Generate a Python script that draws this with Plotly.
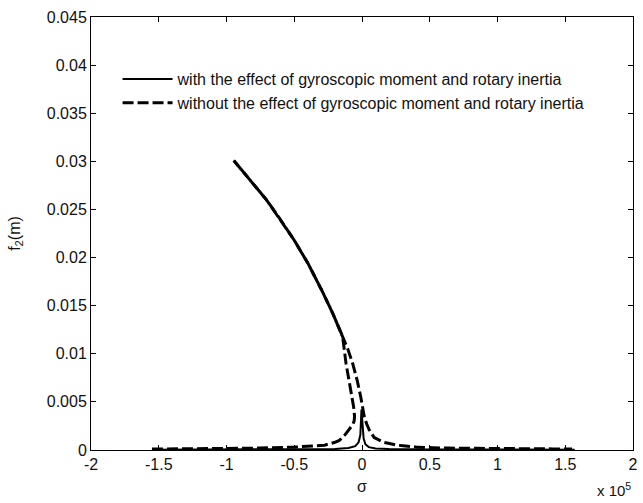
import plotly.graph_objects as go

# sigma in units of 1e5
lower_sigma = [-1.55, -1.3, -1.0, -0.75, -0.5, -0.35, -0.277, -0.2, -0.167, -0.13, -0.094,
               -0.07, -0.058, -0.055, -0.062, -0.075, -0.095, -0.118, -0.143, -0.216, -0.297,
               -0.399, -0.5, -0.6, -0.705, -0.835, -0.947]
lower_f = [0.0001, 0.00012, 0.00015, 0.0002, 0.0003, 0.0004, 0.0005, 0.0008, 0.001, 0.0015, 0.0021,
           0.0026, 0.003, 0.0035, 0.0045, 0.0055, 0.0072, 0.009, 0.0118, 0.0142, 0.0166,
           0.0194, 0.0218, 0.0239, 0.026, 0.0282, 0.0301]

upper_sigma = [-0.947, -0.835, -0.705, -0.6, -0.5, -0.399, -0.297, -0.216, -0.143, -0.105,
               -0.069, -0.035, -0.009, 0.016, 0.035, 0.053, 0.09, 0.16, 0.26, 0.4, 0.6, 0.9, 1.2, 1.55]
upper_f = [0.0301, 0.0282, 0.026, 0.0239, 0.0218, 0.0194, 0.0166, 0.0142, 0.0118, 0.0105,
           0.009, 0.0072, 0.0055, 0.0035, 0.0027, 0.0021, 0.0013, 0.0008, 0.0005, 0.0003,
           0.0002, 0.00015, 0.00012, 0.0001]

solid_sigma = [-1.55, -1.0, -0.5, -0.2, -0.1, -0.05, -0.025, -0.012, -0.004, 0.004, 0.012,
               0.025, 0.05, 0.1, 0.2, 0.5, 1.0, 1.57]
solid_f = [0.00003, 0.00004, 0.00006, 0.0001, 0.0002, 0.0004, 0.0008, 0.0016, 0.0042, 0.0025,
           0.0012, 0.0006, 0.0003, 0.00015, 0.0001, 0.00006, 0.00004, 0.00003]

x_ticks = [-2, -1.5, -1, -0.5, 0, 0.5, 1, 1.5, 2]
x_ticktext = ["-2", "-1.5", "-1", "-0.5", "0", "0.5", "1", "1.5", "2"]
y_ticks = [0, 0.005, 0.01, 0.015, 0.02, 0.025, 0.03, 0.035, 0.04, 0.045]
y_ticktext = ["0", "0.005", "0.01", "0.015", "0.02", "0.025", "0.03", "0.035", "0.04", "0.045"]

label_with = "with the effect of gyroscopic moment and rotary inertia"
label_without = "without the effect of gyroscopic moment and rotary inertia"

FONT = "Liberation Sans, Arial, sans-serif"
TXT = "#111"

fig = go.Figure()
fig.add_trace(go.Scatter(x=solid_sigma, y=solid_f, mode="lines", name=label_with,
                         line=dict(color="black", width=2)))
fig.add_trace(go.Scatter(x=lower_sigma, y=lower_f, mode="lines", name=label_without,
                         line=dict(color="black", width=3, dash="11px,4px")))
fig.add_trace(go.Scatter(x=upper_sigma, y=upper_f, mode="lines", showlegend=False,
                         line=dict(color="black", width=3, dash="7px,4px,4px,0px")))

axis_common = dict(showline=True, linecolor="black", linewidth=1, mirror="ticks",
                   ticks="inside", ticklen=5, tickcolor="black", showgrid=False,
                   zeroline=False, tickfont=dict(family=FONT, size=16, color=TXT))

fig.update_layout(
    width=643, height=503,
    margin=dict(l=91, r=5, t=17, b=53),
    plot_bgcolor="white", paper_bgcolor="white",
    showlegend=True,
    legend=dict(x=0.049, y=0.896, xanchor="left", yanchor="top", bgcolor="rgba(0,0,0,0)",
                borderwidth=0, font=dict(family=FONT, size=16, color=TXT),
                itemwidth=50, tracegroupgap=0),
    xaxis=dict(range=[-2, 2], tickvals=x_ticks, ticktext=x_ticktext,
               title=dict(text="σ", font=dict(family=FONT, size=16, color=TXT), standoff=8),
               **axis_common),
    yaxis=dict(range=[0, 0.045], tickvals=y_ticks, ticktext=y_ticktext,
               title=dict(text="f<sub>2</sub>(m)", font=dict(family=FONT, size=16, color=TXT),
                          standoff=22),
               **axis_common),
    annotations=[dict(text="x 10<sup>5</sup>", xref="paper", yref="paper", x=1.0, y=-0.118,
                      xanchor="right", yanchor="bottom", showarrow=False,
                      font=dict(family=FONT, size=15, color=TXT))],
)

fig.write_html("out.html")
